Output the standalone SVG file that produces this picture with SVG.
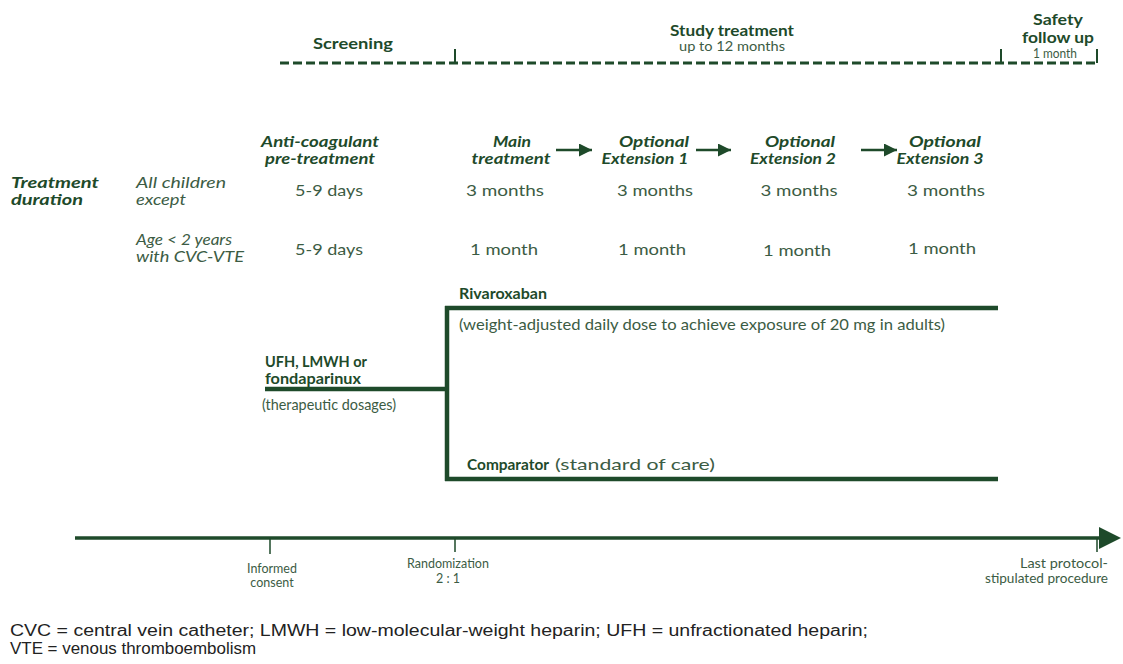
<svg xmlns="http://www.w3.org/2000/svg" width="1123" height="664" viewBox="0 0 1123 664">
<style>
text{font-family:Lato,"Open Sans",sans-serif;fill:#1e4a2a}
.h{font-weight:bold;font-size:16px}
.s{font-size:12.5px;fill:#3c5c44}
.bi{font-weight:bold;font-style:italic;font-size:16px}
.it{font-style:italic;font-size:14.5px;fill:#3c5c44}
.n{font-size:15px;fill:#3c5c44}
.t{font-size:12.5px;fill:#3c5c44}
.c{text-anchor:middle}
.e{text-anchor:end}
.ln{stroke:#1e4a2a;fill:none}
.fn{font-family:"Liberation Sans",Arial,sans-serif;font-size:16px;fill:#222}
</style>
<defs>
<marker id="ah" markerWidth="13" markerHeight="13" refX="13" refY="6.5" orient="auto" markerUnits="userSpaceOnUse" viewBox="0 0 13 13"><path d="M0,0 L13,6.5 L0,13 Z" fill="#1e4a2a"/></marker>
<marker id="ah2" markerWidth="22" markerHeight="22" refX="1" refY="11" orient="auto" markerUnits="userSpaceOnUse" viewBox="0 0 22 22"><path d="M0,0 L22,11 L0,22 Z" fill="#1e4a2a"/></marker>
</defs>
<rect width="1123" height="664" fill="#fff"/>
<g id="phases">
<text class="h c" x="353" y="49" textLength="80" lengthAdjust="spacingAndGlyphs">Screening</text>
<text class="h c" x="732" y="36" textLength="124" lengthAdjust="spacingAndGlyphs">Study treatment</text>
<text class="s c" x="732" y="51" textLength="106" lengthAdjust="spacingAndGlyphs">up to 12 months</text>
<text class="h c" x="1058" y="25" textLength="50" lengthAdjust="spacingAndGlyphs">Safety</text>
<text class="h c" x="1058" y="43" textLength="72" lengthAdjust="spacingAndGlyphs">follow up</text>
<text class="s c" x="1055" y="58" textLength="44" lengthAdjust="spacingAndGlyphs">1 month</text>
<path class="ln" d="M280,63 H1098" stroke-width="3" stroke-dasharray="9,4"/>
<path class="ln" d="M455,49 V63 M1001,49 V63 M1097,49 V63" stroke-width="2"/>
</g>
<g id="headers">
<text class="bi c" x="320" y="147" textLength="118" lengthAdjust="spacingAndGlyphs">Anti-coagulant</text>
<text class="bi c" x="320" y="164" textLength="110" lengthAdjust="spacingAndGlyphs">pre-treatment</text>
<text class="bi c" x="512" y="147" textLength="38" lengthAdjust="spacingAndGlyphs">Main</text>
<text class="bi c" x="511" y="164" textLength="79" lengthAdjust="spacingAndGlyphs">treatment</text>
<text class="bi c" x="654" y="147" textLength="70" lengthAdjust="spacingAndGlyphs">Optional</text>
<text class="bi c" x="645" y="164" textLength="87" lengthAdjust="spacingAndGlyphs">Extension 1</text>
<text class="bi c" x="800" y="147" textLength="70" lengthAdjust="spacingAndGlyphs">Optional</text>
<text class="bi c" x="793" y="164" textLength="86" lengthAdjust="spacingAndGlyphs">Extension 2</text>
<text class="bi c" x="945" y="147" textLength="72" lengthAdjust="spacingAndGlyphs">Optional</text>
<text class="bi c" x="940" y="164" textLength="87" lengthAdjust="spacingAndGlyphs">Extension 3</text>
</g>
<g id="rows">
<text class="bi" x="11" y="188" textLength="88" lengthAdjust="spacingAndGlyphs">Treatment</text>
<text class="bi" x="11" y="205" textLength="72" lengthAdjust="spacingAndGlyphs">duration</text>
<text class="it" x="136" y="188" textLength="90" lengthAdjust="spacingAndGlyphs">All children</text>
<text class="it" x="136" y="205" textLength="50" lengthAdjust="spacingAndGlyphs">except</text>
<text class="n c" x="329" y="196" textLength="68" lengthAdjust="spacingAndGlyphs">5-9 days</text>
<text class="n c" x="505" y="196" textLength="78" lengthAdjust="spacingAndGlyphs">3 months</text>
<text class="n c" x="655" y="196" textLength="76" lengthAdjust="spacingAndGlyphs">3 months</text>
<text class="n c" x="799" y="196" textLength="77" lengthAdjust="spacingAndGlyphs">3 months</text>
<text class="n c" x="946" y="196" textLength="78" lengthAdjust="spacingAndGlyphs">3 months</text>
<text class="it" x="136" y="245" textLength="96" lengthAdjust="spacingAndGlyphs">Age &lt; 2 years</text>
<text class="it" x="136" y="262" textLength="108" lengthAdjust="spacingAndGlyphs">with CVC-VTE</text>
<text class="n c" x="329" y="255" textLength="68" lengthAdjust="spacingAndGlyphs">5-9 days</text>
<text class="n c" x="504" y="255" textLength="68" lengthAdjust="spacingAndGlyphs">1 month</text>
<text class="n c" x="652" y="255" textLength="68" lengthAdjust="spacingAndGlyphs">1 month</text>
<text class="n c" x="797" y="256" textLength="68" lengthAdjust="spacingAndGlyphs">1 month</text>
<text class="n c" x="942" y="254" textLength="68" lengthAdjust="spacingAndGlyphs">1 month</text>
</g>
<g id="arms">
<text class="h" x="459" y="299" textLength="88" lengthAdjust="spacingAndGlyphs">Rivaroxaban</text>
<text class="n" x="459" y="330" textLength="486" lengthAdjust="spacingAndGlyphs">(weight-adjusted daily dose to achieve exposure of 20 mg in adults)</text>
<text class="h" x="265" y="367" textLength="102" lengthAdjust="spacingAndGlyphs">UFH, LMWH or</text>
<text class="h" x="265" y="384" textLength="96" lengthAdjust="spacingAndGlyphs">fondaparinux</text>
<text class="n" x="262" y="410" textLength="134" lengthAdjust="spacingAndGlyphs">(therapeutic dosages)</text>
<text class="h" x="467" y="470" textLength="82" lengthAdjust="spacingAndGlyphs">Comparator</text>
<text class="n" x="555" y="470" font-size="14" textLength="160" lengthAdjust="spacingAndGlyphs">(standard of care)</text>
</g>
<g id="timeline">
<text class="t c" x="272" y="573">Informed</text>
<text class="t c" x="272" y="587">consent</text>
<text class="t c" x="448" y="568">Randomization</text>
<text class="t c" x="448" y="583">2 : 1</text>
<text class="t e" x="1108" y="568" textLength="88" lengthAdjust="spacingAndGlyphs">Last protocol-</text>
<text class="t e" x="1108" y="583" textLength="123" lengthAdjust="spacingAndGlyphs">stipulated procedure</text>
</g>
<g id="connectors">
<path class="ln" d="M556,150 H592" stroke-width="2.5" marker-end="url(#ah)"/>
<path class="ln" d="M696,150 H731" stroke-width="2.5" marker-end="url(#ah)"/>
<path class="ln" d="M861,150 H897" stroke-width="2.5" marker-end="url(#ah)"/>
<path class="ln" d="M265,389 H447 M447,306 V481 M445,308 H998 M445,479 H998" stroke-width="4.5"/>
<path class="ln" d="M75,538 H1100" stroke-width="3.5" marker-end="url(#ah2)"/>
<path class="ln" d="M270,538 V554 M455,538 V552 M1097,538 V552" stroke-width="1.5"/>
</g>
<g id="footer">
<text class="fn" x="10" y="636" textLength="858" lengthAdjust="spacingAndGlyphs">CVC = central vein catheter; LMWH = low-molecular-weight heparin; UFH = unfractionated heparin;</text>
<text class="fn" x="10" y="654" textLength="246" lengthAdjust="spacingAndGlyphs">VTE = venous thromboembolism</text>
</g>
</svg>
